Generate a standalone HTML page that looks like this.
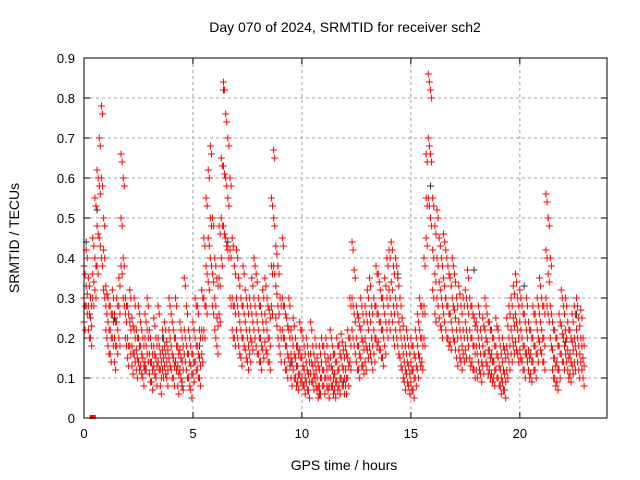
<!DOCTYPE html>
<html><head><meta charset="utf-8"><style>
body{margin:0;background:#fff}
svg{display:block;font-family:"Liberation Sans",sans-serif}
</style></head><body>
<svg id="chart" width="640" height="480">
<text x="345" y="32" text-anchor="middle" font-size="14">Day 070 of 2024, SRMTID for receiver sch2</text>
<text x="344" y="470" text-anchor="middle" font-size="14">GPS time / hours</text>
<text transform="translate(19,238) rotate(-90)" text-anchor="middle" font-size="14">SRMTID / TECUs</text>
<g id="grid"></g><g id="ticks"></g><g id="marks"></g>
<rect x="84" y="58" width="523" height="360" fill="none" stroke="#000"/>
</svg>
<script>
const xTicks=[0,5,10,15,20];
const yTicks=[0,0.1,0.2,0.3,0.4,0.5,0.6,0.7,0.8,0.9];
const yTickLabels=["0","0.1","0.2","0.3","0.4","0.5","0.6","0.7","0.8","0.9"];
const step=0.1;
const satA=[.38,.42,.35,.30,.45,.55,.62,.70,.78,.50,.33,.30,.28,.32,.26,.30,.35,.66,.60,.30,.28,.32,.25,.30,.22,.28,.24,.20,.26,.30,.22,.18,.25,.20,.28,.16,.22,.24,.19,.30,.26,.22,.30,.18,.24,.20,.35,.28,.22,.18,.24,.30,.28,.22,.32,.45,.55,.62,.68,.50,.40,.35,.48,.65,.84,.76,.70,.60,.45,.38,.42,.35,.30,.38,.32,.28,.30,.35,.40,.36,.30,.28,.32,.35,.30,.27,.55,.67,.43,.38,.30,.45,.28,.25,.30,.22,.25,.20,.18,.24,.22,.18,.20,.16,.24,.18,.20,.15,.18,.20,.18,.20,.15,.22,.18,.16,.20,.18,.21,.17,.18,.22,.30,.44,.37,.28,.25,.30,.26,.28,.32,.35,.28,.30,.38,.36,.32,.30,.35,.40,.42,.44,.38,.40,.35,.30,.25,.20,.22,.18,.20,.18,.22,.26,.30,.28,.40,.66,.86,.82,.55,.48,.52,.45,.40,.46,.42,.38,.35,.40,.36,.30,.33,.28,.30,.32,.37,.30,.28,.25,.24,.28,.22,.25,.30,.26,.24,.22,.20,.25,.22,.18,.20,.17,.25,.28,.30,.33,.36,.30,.32,.28,.26,.30,.24,.22,.28,.26,.30,.35,.30,.28,.56,.50,.40,.24,.22,.20,.26,.32,.28,.30,.24,.22,.26,.28,.30,.25,.27,.20];
const satB=[.30,.33,.28,.25,.36,.40,.48,.58,.60,.42,.28,.24,.22,.26,.20,.24,.28,.50,.40,.26,.20,.24,.18,.22,.17,.20,.18,.15,.20,.22,.16,.14,.18,.15,.20,.12,.17,.18,.14,.22,.18,.15,.20,.13,.17,.14,.22,.18,.16,.13,.16,.20,.18,.15,.22,.30,.38,.45,.50,.36,.30,.25,.35,.50,.63,.60,.55,.42,.30,.28,.30,.26,.22,.28,.24,.20,.22,.26,.30,.26,.22,.20,.24,.26,.22,.20,.38,.50,.33,.28,.22,.30,.20,.18,.22,.16,.18,.15,.13,.17,.15,.12,.14,.11,.16,.13,.14,.10,.12,.14,.12,.14,.10,.15,.12,.11,.14,.12,.15,.12,.12,.15,.20,.30,.26,.20,.18,.22,.19,.20,.24,.26,.20,.22,.28,.26,.24,.22,.26,.30,.32,.34,.28,.30,.26,.22,.18,.14,.16,.13,.14,.12,.15,.18,.22,.20,.28,.55,.70,.66,.42,.36,.40,.34,.30,.35,.30,.28,.26,.30,.27,.22,.24,.20,.22,.24,.28,.22,.20,.18,.18,.20,.16,.18,.22,.19,.17,.16,.14,.18,.15,.12,.14,.11,.18,.20,.22,.25,.26,.22,.24,.20,.18,.22,.17,.16,.20,.18,.22,.26,.22,.20,.42,.36,.28,.17,.15,.14,.18,.23,.20,.22,.17,.16,.19,.20,.22,.18,.20,.15];
const satC=[.24,.28,.22,.20,.30,.32,.38,.45,.40,.32,.22,.18,.16,.20,.14,.18,.20,.38,.30,.20,.15,.18,.13,.16,.12,.14,.13,.10,.14,.16,.11,.09,.13,.10,.14,.08,.12,.13,.10,.15,.12,.10,.14,.08,.12,.09,.16,.12,.10,.07,.11,.14,.12,.10,.16,.22,.28,.34,.40,.28,.22,.18,.26,.40,.48,.45,.42,.30,.22,.20,.22,.18,.15,.20,.17,.14,.16,.19,.22,.18,.16,.14,.17,.19,.16,.14,.28,.38,.25,.20,.16,.22,.14,.12,.15,.10,.12,.10,.09,.11,.10,.08,.09,.07,.11,.09,.10,.07,.08,.10,.08,.10,.07,.10,.08,.07,.09,.08,.10,.08,.08,.10,.14,.22,.18,.14,.12,.15,.13,.14,.17,.18,.14,.16,.20,.19,.17,.15,.18,.22,.24,.26,.20,.22,.18,.15,.12,.09,.11,.08,.09,.07,.10,.12,.15,.14,.20,.45,.55,.50,.32,.26,.30,.25,.22,.26,.22,.20,.19,.22,.19,.15,.17,.14,.16,.17,.20,.15,.14,.12,.12,.14,.11,.13,.16,.13,.12,.11,.10,.12,.10,.08,.09,.07,.12,.14,.16,.18,.19,.16,.17,.14,.12,.16,.12,.11,.14,.12,.16,.19,.16,.14,.30,.26,.20,.12,.10,.09,.12,.16,.14,.16,.12,.11,.13,.14,.16,.12,.14,.10];
const blackT=[0.1,0.6,1.4,2.8,3.6,4.5,5.3,6.4,6.6,7.8,8.9,9.5,10.8,11.9,13.2,14.4,15.9,16.6,17.9,18.8,20.2,21.3,22.1,22.6];
const blackV=[0.44,0.52,0.25,0.12,0.2,0.08,0.18,0.82,0.44,0.22,0.38,0.14,0.06,0.09,0.2,0.36,0.58,0.3,0.37,0.14,0.33,0.5,0.19,0.26];
const NS="http://www.w3.org/2000/svg";
const X0=84,X1=607,Y0=418,Y1=58,XMAX=24,YMAX=0.9;
function sx(v){return X0+(X1-X0)*v/XMAX;}
function sy(v){return Y0-(Y0-Y1)*v/YMAX;}
function mk(tag,attrs,parent){const e=document.createElementNS(NS,tag);for(const k in attrs)e.setAttribute(k,attrs[k]);parent.appendChild(e);return e;}
const grid=document.getElementById('grid'),ticks=document.getElementById('ticks'),marks=document.getElementById('marks');
xTicks.forEach(t=>{
  const x=sx(t);
  if(t>0){const g=mk('line',{x1:x,x2:x,y1:Y1,y2:Y0,stroke:'#a0a0a0','stroke-dasharray':'3,3'},grid);
  
  }
  mk('line',{x1:x,x2:x,y1:Y0,y2:Y0-6,stroke:'#000'},ticks);
  mk('line',{x1:x,x2:x,y1:Y1,y2:Y1+6,stroke:'#000'},ticks);
  const l=mk('text',{x:x,y:Y0+20,'text-anchor':'middle','font-size':'13'},ticks);l.textContent=t;
  
  
});
yTicks.forEach((t,i)=>{
  const y=sy(t);
  if(t>0&&t<YMAX){const g=mk('line',{x1:X0,x2:X1,y1:y,y2:y,stroke:'#a0a0a0','stroke-dasharray':'3,3'},grid);
  
  }
  mk('line',{x1:X0,x2:X0+6,y1:y,y2:y,stroke:'#000'},ticks);
  mk('line',{x1:X1,x2:X1-6,y1:y,y2:y,stroke:'#000'},ticks);
  const l=mk('text',{x:X0-9,y:y+5,'text-anchor':'end','font-size':'13'},ticks);l.textContent=yTickLabels[i];
  
  
});
function plus(t,v,col,name){
  const x=sx(t),y=sy(v);
  const p=mk('path',{d:`M${x-3.5},${y}h7M${x},${y-3.5}v7`,stroke:col,'stroke-width':'1',fill:'none'},marks);
  
  
}
blackT.forEach((t,i)=>plus(t,blackV[i],'#333','black-point'));
[satA,satB,satC].forEach(arr=>arr.forEach((v,i)=>{plus(i*step,v,'#f00','red-point');plus(i*step+0.05,v-0.02,'#f00','red-point');}));
const sq=mk('rect',{x:sx(0.4)-3,y:Y0-3,width:6,height:4,fill:'#f00'},marks);


</script>
</body></html>
